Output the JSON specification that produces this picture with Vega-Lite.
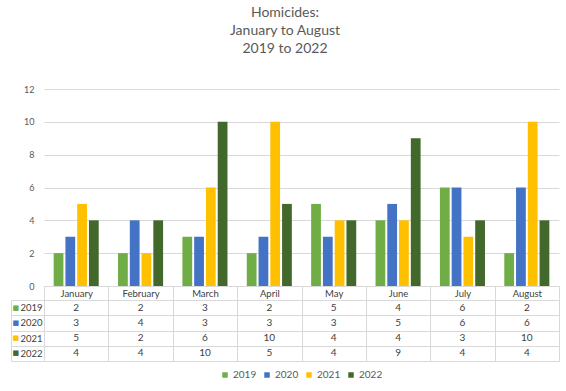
{
  "$schema": "https://vega.github.io/schema/vega-lite/v6.json",
  "padding": {"left": 10, "top": 6, "right": 8, "bottom": 5},
  "config": {
    "font": "Lato",
    "view": {"stroke": null},
    "concat": {"spacing": -6},
    "legend": {"layout": {"bottom": {"anchor": "middle"}}}
  },
  "title": {
    "text": ["Homicides:", "January to August", "2019 to 2022"],
    "fontSize": 14,
    "fontWeight": "normal",
    "color": "#595959",
    "lineHeight": 18,
    "anchor": "middle",
    "frame": "bounds",
    "offset": 29
  },
  "data": {
    "values": [
      {"month": "January", "year": "2019", "value": 2},
      {"month": "February", "year": "2019", "value": 2},
      {"month": "March", "year": "2019", "value": 3},
      {"month": "April", "year": "2019", "value": 2},
      {"month": "May", "year": "2019", "value": 5},
      {"month": "June", "year": "2019", "value": 4},
      {"month": "July", "year": "2019", "value": 6},
      {"month": "August", "year": "2019", "value": 2},
      {"month": "January", "year": "2020", "value": 3},
      {"month": "February", "year": "2020", "value": 4},
      {"month": "March", "year": "2020", "value": 3},
      {"month": "April", "year": "2020", "value": 3},
      {"month": "May", "year": "2020", "value": 3},
      {"month": "June", "year": "2020", "value": 5},
      {"month": "July", "year": "2020", "value": 6},
      {"month": "August", "year": "2020", "value": 6},
      {"month": "January", "year": "2021", "value": 5},
      {"month": "February", "year": "2021", "value": 2},
      {"month": "March", "year": "2021", "value": 6},
      {"month": "April", "year": "2021", "value": 10},
      {"month": "May", "year": "2021", "value": 4},
      {"month": "June", "year": "2021", "value": 4},
      {"month": "July", "year": "2021", "value": 3},
      {"month": "August", "year": "2021", "value": 10},
      {"month": "January", "year": "2022", "value": 4},
      {"month": "February", "year": "2022", "value": 4},
      {"month": "March", "year": "2022", "value": 10},
      {"month": "April", "year": "2022", "value": 5},
      {"month": "May", "year": "2022", "value": 4},
      {"month": "June", "year": "2022", "value": 9},
      {"month": "July", "year": "2022", "value": 4},
      {"month": "August", "year": "2022", "value": 4}
    ]
  },
  "vconcat": [
    {
      "width": 515,
      "height": 197,
      "mark": {"type": "bar"},
      "encoding": {
        "x": {
          "field": "month", "type": "nominal",
          "sort": ["January", "February", "March", "April", "May", "June", "July", "August"],
          "scale": {"paddingInner": 0.3, "paddingOuter": 0.15},
          "axis": {"labels": false, "ticks": false, "title": null, "domainColor": "#D9D9D9", "grid": false}
        },
        "xOffset": {
          "field": "year", "type": "nominal",
          "sort": ["2019", "2020", "2021", "2022"],
          "scale": {"paddingInner": 0.17}
        },
        "y": {
          "field": "value", "type": "quantitative",
          "scale": {"domain": [0, 12]},
          "axis": {
            "values": [0, 2, 4, 6, 8, 10, 12], "title": null, "domain": false, "ticks": false,
            "gridColor": "#D9D9D9", "labelColor": "#595959", "labelFontSize": 9, "labelPadding": 10
          }
        },
        "color": {
          "field": "year", "type": "nominal",
          "scale": {"domain": ["2019", "2020", "2021", "2022"], "range": ["#70AD47", "#4472C4", "#FFC000", "#43682B"]},
          "legend": {
            "orient": "bottom", "direction": "horizontal", "title": null,
            "symbolType": "square", "symbolSize": 30, "symbolStrokeWidth": 0,
            "labelFontSize": 10, "labelColor": "#595959", "columnPadding": 5, "labelOffset": 3, "offset": 8
          }
        }
      }
    },
    {
      "width": 515,
      "height": 61,
      "layer": [
        {
          "mark": {"type": "text", "fontSize": 10, "color": "#404040"},
          "encoding": {
            "x": {
              "field": "month", "type": "nominal",
              "sort": ["January", "February", "March", "April", "May", "June", "July", "August"],
              "scale": {"paddingInner": 0, "paddingOuter": 0},
              "axis": {
                "orient": "top", "title": null, "tickBand": "extent", "tickSize": 14,
                "tickColor": "#D9D9D9", "domainColor": "#D9D9D9", "grid": true, "gridColor": "#D9D9D9",
                "labelPadding": -7, "labelBaseline": "middle", "labelColor": "#404040", "labelAngle": 0, "labelFontSize": 9.5
              }
            },
            "y": {
              "field": "year", "type": "nominal",
              "sort": ["2019", "2020", "2021", "2022"],
              "axis": {
                "title": null, "tickBand": "extent", "tickSize": 33, "tickColor": "#D9D9D9",
                "domain": false, "grid": true, "gridColor": "#D9D9D9",
                "labelPadding": -31, "labelColor": "#404040", "labelFontSize": 9.5
              }
            },
            "text": {"field": "value", "type": "quantitative"}
          }
        },
        {
          "mark": {"type": "text", "opacity": 0},
          "encoding": {
            "y": {
              "field": "year", "type": "nominal",
              "sort": ["2019", "2020", "2021", "2022"],
              "axis": {
                "orient": "left", "title": null, "offset": 33, "ticks": false, "grid": false,
                "domain": true, "domainColor": "#D9D9D9",
                "labelExpr": "'■'", "labelAlign": "left", "labelPadding": -1,
                "labelFont": "DejaVu Sans", "labelFontSize": 7,
                "labelColor": {
                  "condition": [
                    {"test": "datum.value === '2019'", "value": "#70AD47"},
                    {"test": "datum.value === '2020'", "value": "#4472C4"},
                    {"test": "datum.value === '2021'", "value": "#FFC000"}
                  ],
                  "value": "#43682B"
                }
              }
            },
            "text": {"field": "value", "type": "quantitative"}
          }
        }
      ],
      "resolve": {"axis": {"y": "independent"}}
    }
  ]
}
